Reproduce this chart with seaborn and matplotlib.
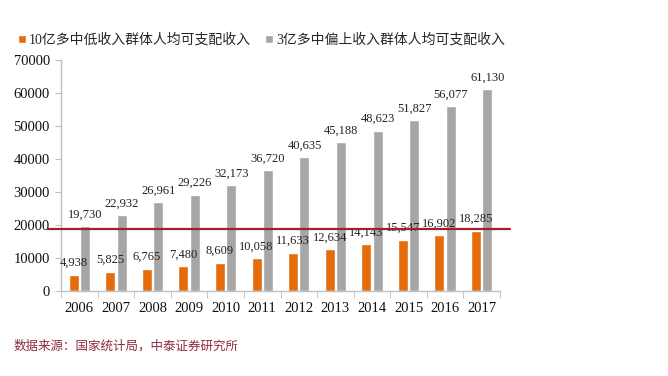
import matplotlib
matplotlib.use("Agg")
import matplotlib.pyplot as plt
import seaborn as sns
import numpy as np
import pandas as pd

# 数据
years = ['2006', '2007', '2008', '2009', '2010', '2011',
         '2012', '2013', '2014', '2015', '2016', '2017']
low_income = [4938, 5825, 6765, 7480, 8609, 10058,
              11633, 12634, 14143, 15547, 16902, 18285]
high_income = [19730, 22932, 26961, 29226, 32173, 36720,
               40635, 45188, 48623, 51827, 56077, 61130]
series_names = ['10亿多中低收入群体人均可支配收入', '3亿多中偏上收入群体人均可支配收入']
ref_line = 18800
source_text = '数据来源：国家统计局，中泰证券研究所'

df = pd.DataFrame({
    'year': years * 2,
    'value': low_income + high_income,
    'group': [series_names[0]] * len(years) + [series_names[1]] * len(years),
})

sns.set_style('white')
serif = ['Liberation Serif', 'Noto Sans CJK SC']
plt.rcParams['font.family'] = serif

fig = plt.figure(figsize=(6.68, 3.76), dpi=100)
ax = fig.add_axes([61 / 668, 1 - 291 / 376, 439 / 668, 231 / 376])

sns.barplot(data=df, x='year', y='value', hue='group', hue_order=series_names,
            palette=['#e46c0a', '#a6a6a6'], width=0.62, gap=0.12,
            saturation=1, ax=ax)

# 数据标签
for cont in ax.containers:
    vals = [int(b.get_height()) for b in cont]
    ax.bar_label(cont, labels=[f'{v:,}' for v in vals], padding=4,
                 fontsize=9, family='Liberation Serif', color='#222222')

ax.set_ylim(0, 70000)
ax.set_yticks(np.arange(0, 70001, 10000))
ax.set_yticklabels([str(v) for v in range(0, 70001, 10000)])
ax.set_xlim(-0.5, len(years) - 0.5)
ax.set_xlabel('')
ax.set_ylabel('')

for s in ['top', 'right']:
    ax.spines[s].set_visible(False)
for s in ['left', 'bottom']:
    ax.spines[s].set_color('#bfbfbf')
    ax.spines[s].set_linewidth(1)

ax.tick_params(axis='y', which='major', length=4, color='#bfbfbf', direction='out',
               left=True, labelsize=10.5, labelcolor='#111111', pad=4)
ax.tick_params(axis='x', which='major', length=0, labelsize=10.5,
               labelcolor='#111111', pad=8)
ax.set_xticks(np.arange(-0.5, len(years), 1), minor=True)
ax.tick_params(axis='x', which='minor', length=5, color='#bfbfbf',
               direction='out', bottom=True)

# 红色参考线
ax.axhline(ref_line, xmin=-0.03, xmax=1.023, color='#a51e2b', lw=1.6,
           clip_on=False, zorder=5)

# 图例
handles, labels = ax.get_legend_handles_labels()
ax.get_legend().remove()
fig.legend(handles, labels, loc='center left',
           bbox_to_anchor=(18 / 668, 1 - 40 / 376), ncol=2, frameon=False,
           handlelength=0.55, handleheight=0.55, handletextpad=0.25,
           columnspacing=1.0, borderpad=0, borderaxespad=0,
           prop={'family': serif, 'size': 10})

fig.text(14 / 668, 1 - 346 / 376, source_text, color='#8e2b3b', fontsize=9,
         family=['Noto Sans CJK SC', 'DejaVu Sans'], va='center', ha='left')

fig.savefig('out.png', dpi=100, facecolor='white')
